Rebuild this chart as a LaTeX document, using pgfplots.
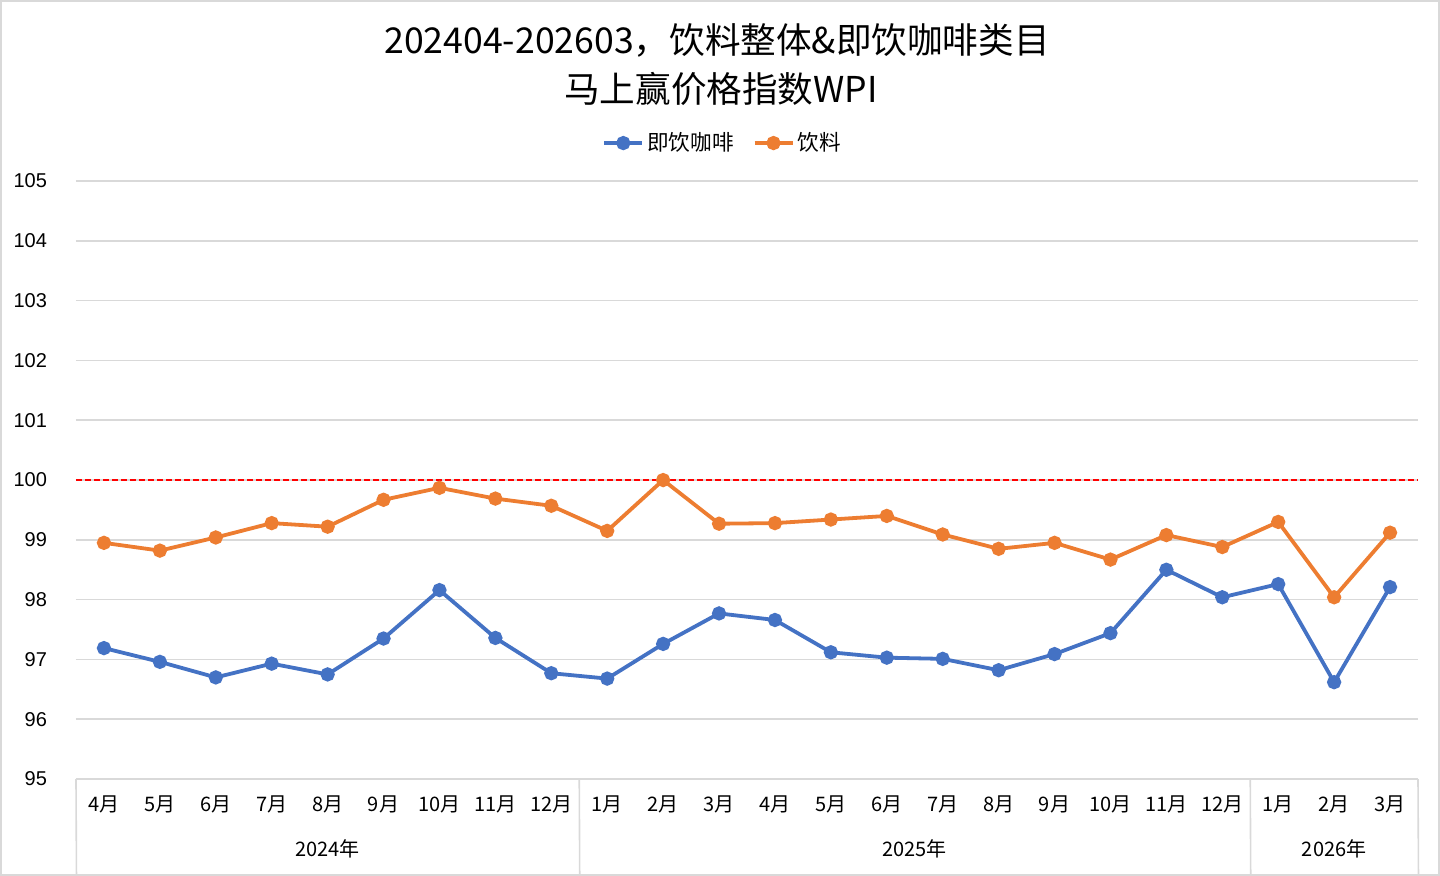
\documentclass[border=0pt]{standalone}
\usepackage{fontspec}
\setmainfont{Noto Sans CJK SC}
\newfontfamily\tickfont{Liberation Sans}
\usepackage{pgfplots}
\pgfplotsset{compat=1.18}
\usepackage{pgfplotstable}
\definecolor{cblue}{HTML}{4472C4}
\definecolor{corange}{HTML}{ED7D31}
\definecolor{gridgray}{HTML}{D9D9D9}
\pgfplotstableread{
x coffee drink
0 97.19 98.95
1 96.96 98.82
2 96.70 99.04
3 96.93 99.28
4 96.75 99.22
5 97.35 99.67
6 98.16 99.87
7 97.36 99.69
8 96.77 99.57
9 96.68 99.15
10 97.26 100.00
11 97.77 99.27
12 97.66 99.28
13 97.12 99.34
14 97.03 99.40
15 97.01 99.09
16 96.82 98.85
17 97.09 98.95
18 97.44 98.67
19 98.50 99.08
20 98.04 98.88
21 98.26 99.30
22 96.62 98.04
23 98.21 99.12
}\datatable
\begin{document}
\begin{tikzpicture}
\path[use as bounding box] (0,0) rectangle (720pt,438pt);
\draw[gridgray, line width=0.8pt] (0.5pt,0.5pt) rectangle (719.5pt,437.5pt);
\node[font=\fontsize{17.8}{20}\selectfont] at (358.5pt,418pt) {202404-202603，饮料整体\&即饮咖啡类目};
\node[font=\fontsize{17.8}{20}\selectfont] at (360.5pt,393.5pt) {马上赢价格指数WPI};
\begin{axis}[
  at={(38pt,48.5pt)}, anchor=south west,
  scale only axis, width=671pt, height=299pt,
  xmin=-0.5, xmax=23.5, ymin=95, ymax=105,
  ytick={95,96,...,105},
  xtick={0,...,23},
  xticklabels={4月,5月,6月,7月,8月,9月,10月,11月,12月,1月,2月,3月,4月,5月,6月,7月,8月,9月,10月,11月,12月,1月,2月,3月},
  major tick length=0pt,
  axis line style={draw=none},
  ymajorgrids, grid style={gridgray, line width=0.8pt},
  /pgf/number format/assume math mode=true,
  yticklabel style={font=\tickfont\fontsize{10}{12}\selectfont, xshift=-11pt},
  xticklabel style={font=\fontsize{10}{12}\selectfont, yshift=-5pt},
  legend image code/.code={\draw[mark repeat=2,mark phase=2] plot coordinates {(0pt,0pt) (9.5pt,0pt) (19pt,0pt)};},
  legend style={draw=none, legend columns=2, at={(axis description cs:0.5,1)}, anchor=center, xshift=-12pt, yshift=19pt, font=\fontsize{10.8}{12}\selectfont, inner sep=0pt, nodes={inner xsep=1.5pt}, /tikz/column 2/.style={column sep=8pt}},
  legend cell align=left,
  clip=false,
]
\draw[gridgray, line width=0.8pt] (axis cs:-0.5,95) -- (axis cs:23.5,95);
\draw[gridgray, line width=0.8pt] (axis cs:-0.5,95) -- ++(0,-43.5pt);
\draw[gridgray, line width=0.8pt] (axis cs:8.5,95) -- ++(0,-43.5pt);
\draw[gridgray, line width=0.8pt] (axis cs:20.5,95) -- ++(0,-43.5pt);
\draw[gridgray, line width=0.8pt] (axis cs:23.5,95) -- ++(0,-43.5pt);
\addplot[red, line width=0.7pt, dash pattern=on 3pt off 1.5pt, forget plot] coordinates {(-0.5,100) (23.5,100)};
\addplot[cblue, line width=1.9pt, mark=*, mark size=2.6pt] table[x=x, y=coffee] {\datatable};
\addlegendentry{即饮咖啡}
\addplot[corange, line width=1.9pt, mark=*, mark size=2.6pt] table[x=x, y=drink] {\datatable};
\addlegendentry{饮料}
\node[font=\fontsize{10}{12}\selectfont] at ([yshift=-35pt]axis cs:4,95) {2024年};
\node[font=\fontsize{10}{12}\selectfont] at ([yshift=-35pt]axis cs:14.5,95) {2025年};
\node[font=\fontsize{10}{12}\selectfont] at ([yshift=-35pt]axis cs:22,95) {2026年};
\end{axis}
\end{tikzpicture}
\end{document}
